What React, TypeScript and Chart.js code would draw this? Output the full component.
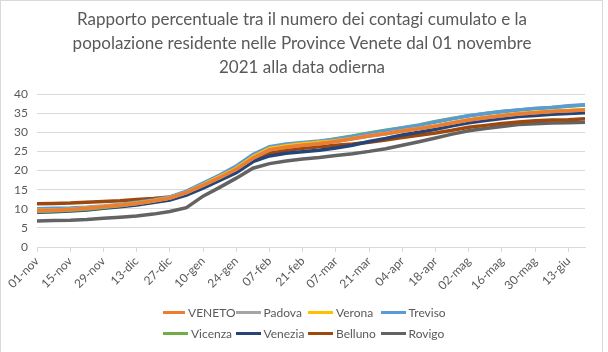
import React, { useEffect, useRef } from "react";
import { Chart, registerables } from "chart.js";

Chart.register(...registerables);

const categories = [
  "01-nov", "08-nov", "15-nov", "22-nov", "29-nov", "06-dic", "13-dic", "20-dic",
  "27-dic", "03-gen", "10-gen", "17-gen", "24-gen", "31-gen", "07-feb", "14-feb",
  "21-feb", "28-feb", "07-mar", "14-mar", "21-mar", "28-mar", "04-apr", "11-apr",
  "18-apr", "25-apr", "02-mag", "09-mag", "16-mag", "23-mag", "30-mag", "06-giu",
  "13-giu", "20-giu",
];

const veneto = [9.5, 9.6, 9.8, 10.1, 10.5, 10.9, 11.4, 12.0, 12.8, 14.2, 16.1, 18.1, 20.3, 23.2, 25.4, 26.1, 26.6, 27.0, 27.6, 28.3, 29.0, 29.6, 30.3, 30.9, 31.6, 32.4, 33.2, 33.8, 34.3, 34.8, 35.1, 35.4, 35.6, 35.8];
const padova = [9.5, 9.6, 9.8, 10.1, 10.5, 10.9, 11.4, 12.0, 12.8, 14.2, 16.1, 18.1, 20.3, 23.2, 25.4, 26.1, 26.6, 27.0, 27.6, 28.3, 29.0, 29.6, 30.3, 30.9, 31.6, 32.4, 33.2, 33.8, 34.3, 34.8, 35.1, 35.4, 35.6, 35.8];
const verona = [9.6, 9.7, 9.9, 10.2, 10.6, 11.0, 11.5, 12.1, 12.9, 14.3, 16.3, 18.4, 20.6, 23.6, 25.8, 26.5, 27.0, 27.4, 27.8, 28.4, 29.1, 29.7, 30.4, 31.0, 31.7, 32.5, 33.3, 33.9, 34.4, 34.9, 35.2, 35.5, 35.7, 35.9];
const treviso = [10.0, 10.1, 10.2, 10.4, 10.7, 11.1, 11.7, 12.3, 13.1, 14.6, 16.7, 18.8, 21.2, 24.2, 26.2, 26.9, 27.3, 27.7, 28.2, 28.9, 29.7, 30.4, 31.1, 31.8, 32.7, 33.5, 34.3, 34.9, 35.4, 35.8, 36.2, 36.5, 36.9, 37.2];
const vicenza = [9.3, 9.4, 9.6, 9.9, 10.3, 10.8, 11.4, 12.0, 12.8, 14.3, 16.4, 18.5, 20.8, 23.8, 25.9, 26.6, 27.1, 27.5, 28.3, 29.0, 29.8, 30.5, 31.2, 31.9, 32.8, 33.6, 34.3, 34.9, 35.4, 35.8, 36.2, 36.5, 36.8, 37.1];
const venezia = [9.1, 9.2, 9.4, 9.7, 10.1, 10.5, 11.0, 11.6, 12.3, 13.6, 15.4, 17.4, 19.4, 22.3, 23.8, 24.5, 24.9, 25.3, 25.9, 26.6, 27.6, 28.4, 29.3, 30.0, 30.8, 31.7, 32.5, 33.1, 33.6, 34.1, 34.4, 34.7, 34.9, 35.1];
const belluno = [11.3, 11.4, 11.5, 11.7, 11.9, 12.1, 12.4, 12.7, 13.1, 14.0, 16.1, 18.1, 20.1, 22.7, 24.5, 25.3, 25.8, 26.2, 26.6, 26.9, 27.4, 28.0, 28.6, 29.2, 29.8, 30.5, 31.3, 31.8, 32.3, 32.7, 33.0, 33.2, 33.3, 33.5];
const rovigo = [6.8, 6.9, 7.0, 7.2, 7.5, 7.8, 8.1, 8.6, 9.3, 10.3, 13.3, 15.6, 18.0, 20.6, 21.8, 22.5, 23.0, 23.4, 23.9, 24.4, 25.0, 25.7, 26.6, 27.5, 28.5, 29.5, 30.4, 31.0, 31.5, 32.0, 32.2, 32.4, 32.5, 32.6];

const seriesNames = ["VENETO", "Padova", "Verona", "Treviso", "Vicenza", "Venezia", "Belluno", "Rovigo"];
const seriesData = [veneto, padova, verona, treviso, vicenza, venezia, belluno, rovigo];
const seriesColors = ["#ED7D31", "#A5A5A5", "#FFC000", "#5B9BD5", "#70AD47", "#264478", "#9E480E", "#636363"];

const titleLines = [
  "Rapporto percentuale tra il numero dei contagi cumulato e la",
  "popolazione residente nelle Province Venete dal 01 novembre",
  "2021 alla data odierna",
];

const FONT = "Lato, 'Liberation Sans', sans-serif";
const TEXT = "#595959";
const GRID = "#d9d9d9";

export default function App() {
  const ref = useRef<HTMLCanvasElement>(null);

  useEffect(() => {
    document.body.style.margin = "0";
    const chart = new Chart(ref.current as HTMLCanvasElement, {
      type: "line",
      data: {
        labels: categories,
        datasets: seriesNames.map((name, i) => ({
          label: name,
          data: seriesData[i],
          borderColor: seriesColors[i],
          backgroundColor: seriesColors[i],
          borderWidth: 3.5,
          pointRadius: 0,
          tension: 0,
          fill: false,
        })),
      },
      options: {
        animation: false,
        responsive: false,
        maintainAspectRatio: false,
        layout: { padding: { left: 0, right: 23, top: 94, bottom: 0 } },
        plugins: {
          legend: { display: false },
          tooltip: { enabled: false },
          title: { display: false },
        },
        scales: {
          x: {
            grid: {
              drawOnChartArea: false,
              drawTicks: true,
              tickLength: 5,
              color: (ctx: any) => (ctx.index % 2 === 0 ? GRID : "rgba(0,0,0,0)"),
            },
            border: { display: true, color: GRID },
            ticks: {
              autoSkip: false,
              maxRotation: 45,
              minRotation: 45,
              color: TEXT,
              font: { family: FONT, size: 12 },
              padding: 2,
              callback: (_v: any, i: number) => (i % 2 === 0 ? categories[i] : ""),
            },
            afterFit: (s: any) => {
              s.height = 105;
            },
          },
          y: {
            min: 0,
            max: 40,
            ticks: {
              stepSize: 5,
              color: TEXT,
              font: { family: FONT, size: 12 },
              padding: 9,
            },
            grid: { color: GRID, drawTicks: false },
            border: { display: false },
            afterFit: (s: any) => {
              s.width = 37;
            },
          },
        },
      },
    } as any);
    return () => chart.destroy();
  }, []);

  return (
    <div style={{ position: "relative", width: 608, height: 352, background: "#fff" }}>
      <canvas ref={ref} width={608} height={352} style={{ display: "block" }} />
      <div
        style={{
          position: "absolute",
          left: 0,
          top: 0,
          width: 603,
          height: 352,
          borderTop: `1px solid ${GRID}`,
          borderLeft: `1px solid ${GRID}`,
          borderRight: `1px solid ${GRID}`,
          boxSizing: "border-box",
          pointerEvents: "none",
        }}
      />
      <div
        style={{
          position: "absolute",
          left: 0,
          top: 7,
          width: 604,
          textAlign: "center",
          fontFamily: FONT,
          fontSize: 17,
          lineHeight: "24px",
          color: TEXT,
        }}
      >
        {titleLines.map((t) => (
          <div key={t}>{t}</div>
        ))}
      </div>
      <div
        style={{
          position: "absolute",
          left: 163,
          top: 302,
          display: "grid",
          gridTemplateColumns: "repeat(4, 72.5px)",
          gridAutoRows: "21px",
          fontFamily: FONT,
          fontSize: 12,
          color: TEXT,
        }}
      >
        {seriesNames.map((name, i) => (
          <div key={name} style={{ display: "flex", alignItems: "center", whiteSpace: "nowrap" }}>
            <span
              style={{
                display: "inline-block",
                width: 25,
                height: 3,
                background: seriesColors[i],
                marginRight: 3,
              }}
            />
            <span>{name}</span>
          </div>
        ))}
      </div>
    </div>
  );
}
